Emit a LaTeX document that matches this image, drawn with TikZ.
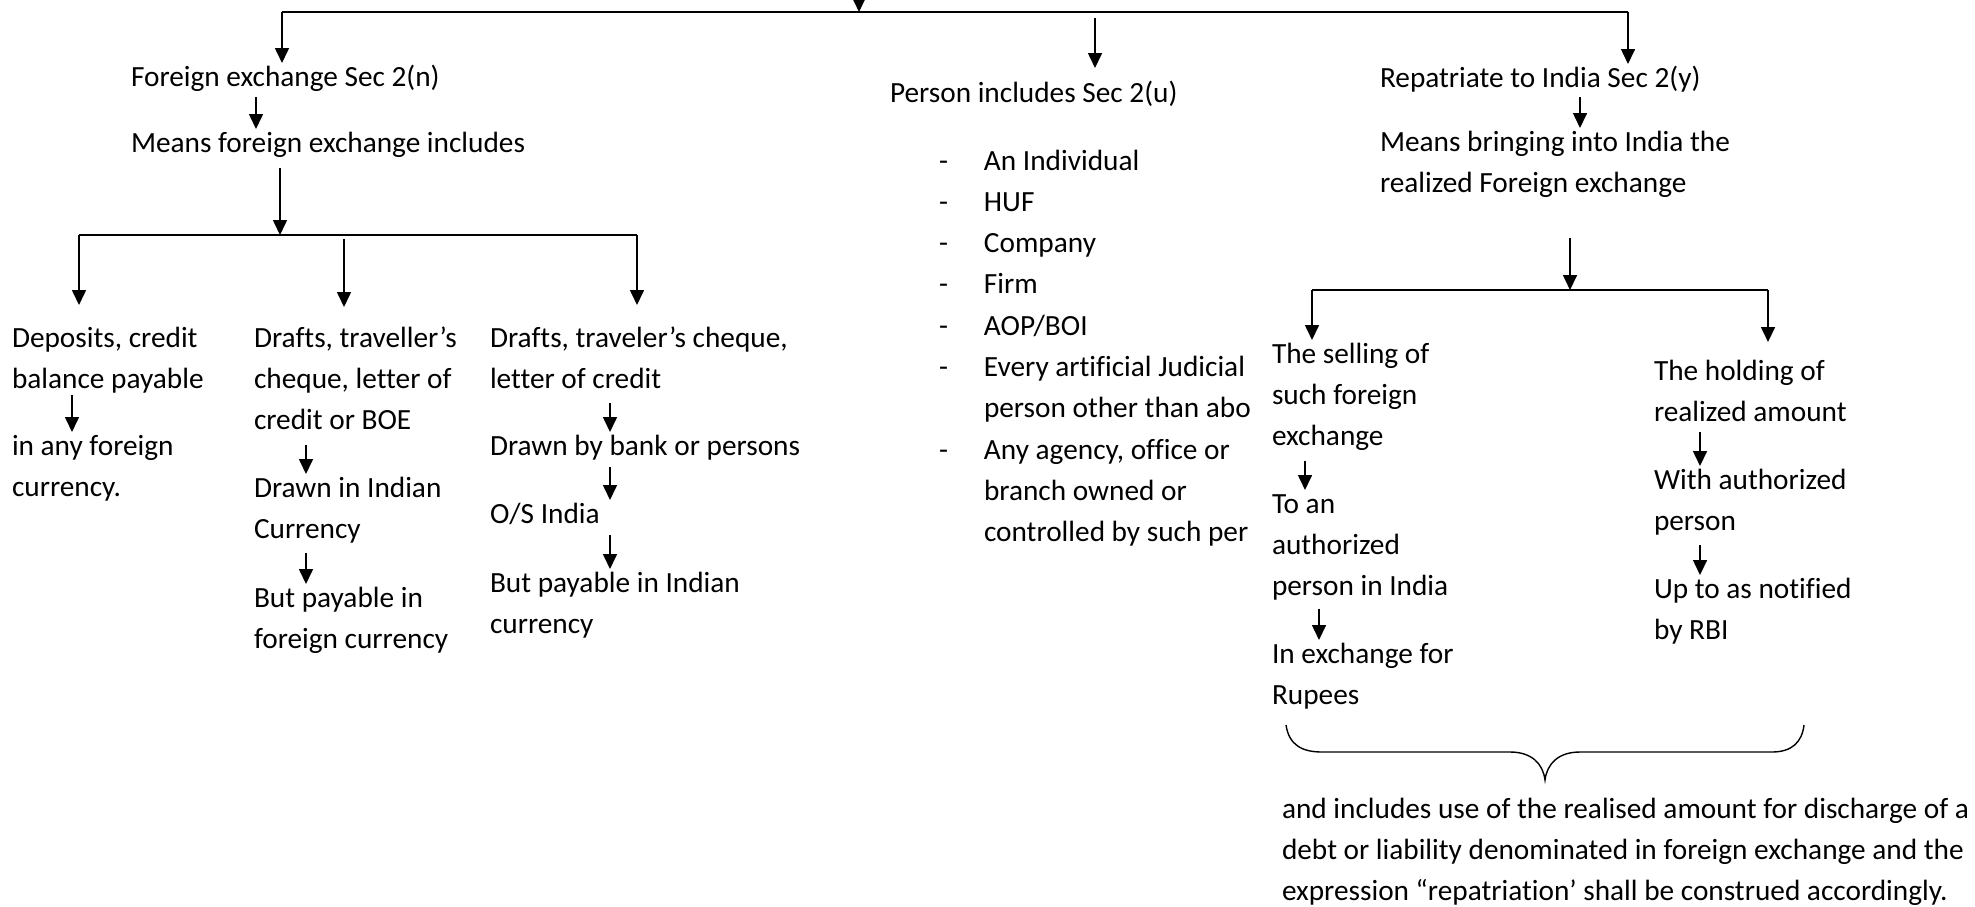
\documentclass[tikz,border=0pt]{standalone}
\usepackage{fontspec}
\setmainfont{Carlito}[Ligatures=NoCommon]
\usetikzlibrary{arrows.meta}
% fixed-height strut so every line has the same height and depth
\newcommand\sx{\rule[-3.5pt]{0pt}{15pt}}
\begin{document}
\begin{tikzpicture}[x=0.5pt,y=-0.5pt,
  txt/.style={anchor=north west, inner sep=0pt, outer sep=0pt, align=left,
              font=\fontsize{14.65pt}{20.65pt}\selectfont},
  note/.style={txt, font=\fontsize{14.65pt}{20.5pt}\selectfont},
  link/.style={line width=0.8pt, -{Triangle[width=7pt,length=7.5pt]}},
  bar/.style={line width=0.8pt},
  brace/.style={line width=0.7pt}]
\useasboundingbox (0,0) rectangle (1975,906);

% ---------- text blocks ----------
\node[txt] (fe)  at (131,63)  {\sx Foreign exchange Sec 2(n)};
\node[txt] (mfe) at (131,129) {\sx Means foreign exchange includes};

\node[txt] (dep1) at (12,324) {\sx Deposits, credit\\\sx balance payable};
\node[txt] (dep2) at (12,432) {\sx in any foreign\\\sx currency.};

\node[txt] (c2a) at (254,324) {\sx Drafts, traveller’s\\\sx cheque, letter of\\\sx credit or BOE};
\node[txt] (c2b) at (254,474) {\sx Drawn in Indian\\\sx Currency};
\node[txt] (c2c) at (254,584) {\sx But payable in\\\sx foreign currency};

\node[txt] (c3a) at (490,324) {\sx Drafts, traveler’s cheque,\\\sx letter of credit};
\node[txt] (c3b) at (490,432) {\sx Drawn by bank or persons};
\node[txt] (c3c) at (490,500) {\sx O/S India};
\node[txt] (c3d) at (490,569) {\sx But payable in Indian\\\sx currency};

\node[txt] (per) at (890,79) {\sx Person includes Sec 2(u)};
\node[txt] (plist) at (939,147) {%
  \sx\makebox[22.5pt][l]{-}An Individual\\
  \sx\makebox[22.5pt][l]{-}HUF\\
  \sx\makebox[22.5pt][l]{-}Company\\
  \sx\makebox[22.5pt][l]{-}Firm\\
  \sx\makebox[22.5pt][l]{-}AOP/BOI\\
  \sx\makebox[22.5pt][l]{-}Every artificial Judicial\\
  \sx\hspace*{22.5pt}person other than abo\\
  \sx\makebox[22.5pt][l]{-}Any agency, office or\\
  \sx\hspace*{22.5pt}branch owned or\\
  \sx\hspace*{22.5pt}controlled by such per};

\node[txt] (rep) at (1380,64)  {\sx Repatriate to India Sec 2(y)};
\node[txt] (mbi) at (1380,128) {\sx Means bringing into India the\\\sx realized Foreign exchange};

\node[txt] (sel1) at (1272,340) {\sx The selling of\\\sx such foreign\\\sx exchange};
\node[txt] (sel2) at (1272,490) {\sx To an\\\sx authorized\\\sx person in India};
\node[txt] (sel3) at (1272,640) {\sx In exchange for\\\sx Rupees};

\node[txt] (hold1) at (1654,357) {\sx The holding of\\\sx realized amount};
\node[txt] (hold2) at (1654,466) {\sx With authorized\\\sx person};
\node[txt] (hold3) at (1654,575) {\sx Up to as notified\\\sx by RBI};

\node[note] (incl) at (1282,795) {\sx and includes use of the realised amount for discharge of a\\
  \sx debt or liability denominated in foreign exchange and the\\
  \sx expression “repatriation’ shall be construed accordingly.};

% ---------- junction points ----------
\coordinate (topin) at (859,-40);
\coordinate (tA) at (282,12);
\coordinate (tB) at (1628,12);
\coordinate (tC) at (1095,12);

\coordinate (lbL) at (79,235);
\coordinate (lbM) at (280,235);
\coordinate (lbC) at (344,235);
\coordinate (lbR) at (637,235);

\coordinate (rbL) at (1312,290);
\coordinate (rbM) at (1570,290);
\coordinate (rbR) at (1768,290);

% arrow columns
\coordinate (xfe) at (256,0);
\coordinate (xdep) at (72,0);
\coordinate (xc2) at (306,0);
\coordinate (xc3) at (610,0);
\coordinate (xrep) at (1580,0);
\coordinate (xs1) at (1305,0);
\coordinate (xs2) at (1319,0);
\coordinate (xh) at (1700,0);

% ---------- top level ----------
\draw[link] (topin) -- (topin |- tA);
\draw[bar] (tA) -- (tB);
\draw[link] (tA) -- (tA |- fe.north);
\draw[link, shorten <=3pt, shorten >=5.5pt] (tC) -- (tC |- per.north);
\draw[link] (tB) -- (tB |- rep.north);

% ---------- foreign exchange branch ----------
\draw[link, shorten <=2pt] (xfe |- fe.south) -- (xfe |- mfe.north);
\draw[link, shorten <=4.5pt] (lbM |- mfe.south) -- (lbM);
\draw[bar] (lbL) -- (lbR);
\draw[link, shorten >=9.5pt] (lbL) -- (lbL |- dep1.north);
\draw[link, shorten <=2pt, shorten >=8.5pt] (lbC) -- (lbC |- c2a.north);
\draw[link, shorten >=9.5pt] (lbR) -- (lbR |- c3a.north);

\draw[link] (xdep |- dep1.south) -- (xdep |- dep2.north);
\draw[link, shorten <=4pt] (xc2 |- c2a.south) -- (xc2 |- c2b.north);
\draw[link, shorten <=4pt] (xc2 |- c2b.south) -- (xc2 |- c2c.north);
\draw[link, shorten <=4pt] (xc3 |- c3a.south) -- (xc3 |- c3b.north);
\draw[link, shorten <=2.5pt] (xc3 |- c3b.south) -- (xc3 |- c3c.north);
\draw[link, shorten <=2.5pt] (xc3 |- c3c.south) -- (xc3 |- c3d.north);

% ---------- repatriation branch ----------
\draw[link, shorten <=1.5pt] (xrep |- rep.south) -- (xrep |- mbi.north);
\draw[link, shorten <=19.5pt] (rbM |- mbi.south) -- (rbM);
\draw[bar] (rbL) -- (rbR);
\draw[link] (rbL) -- (rbL |- sel1.north);
\draw[link, shorten >=7.5pt] (rbR) -- (rbR |- hold1.north);

\draw[link, shorten <=4pt] (xs1 |- sel1.south) -- (xs1 |- sel2.north);
\draw[link, shorten <=3pt] (xs2 |- sel2.south) -- (xs2 |- sel3.north);
\draw[link, shorten <=2pt] (xh |- hold1.south) -- (xh |- hold2.north);
\draw[link, shorten <=4pt] (xh |- hold2.south) -- (xh |- hold3.north);

% ---------- closing brace ----------
\draw[brace] (1286,725) .. controls (1289,745) and (1302,752) .. (1322,752)
  -- (1510,752) .. controls (1532,752) and (1543,764) .. (1545,780)
  .. controls (1547,764) and (1558,752) .. (1580,752)
  -- (1772,752) .. controls (1792,752) and (1802,742) .. (1804,725);
\end{tikzpicture}
\end{document}
